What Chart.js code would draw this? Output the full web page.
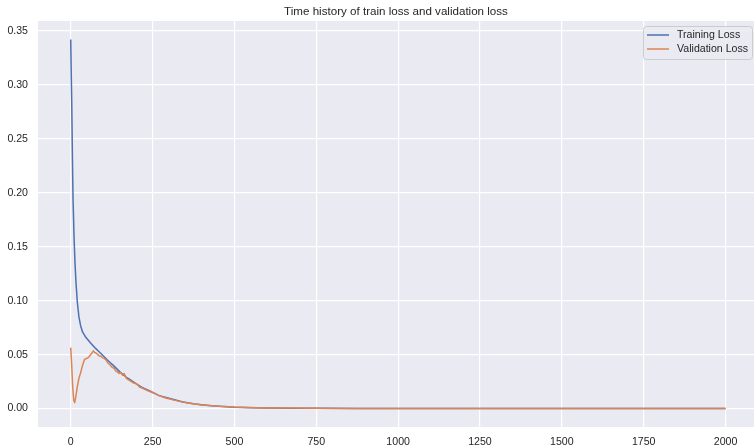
<!DOCTYPE html>
<html>
<head>
<meta charset="utf-8">
<script src="https://cdn.jsdelivr.net/npm/chart.js@4"></script>
<style>
  html, body { margin: 0; padding: 0; background: #ffffff; overflow: hidden; }
  #wrap { width: 754px; height: 447px; }
</style>
</head>
<body>
<div id="wrap"><canvas id="lossChart" width="754" height="447"></canvas></div>
<script>
// values
const trainEpochs = [0, 1, 3, 5, 7, 10, 13, 16, 20, 25, 30, 36, 46, 60, 75, 92, 112, 130, 150, 170, 190, 215, 240, 270, 300, 340, 380, 430, 500, 600, 750, 1000, 1500, 2000];
const trainLoss = [0.342, 0.32, 0.285, 0.235, 0.195, 0.16, 0.135, 0.117, 0.099, 0.085, 0.077, 0.071, 0.066, 0.061, 0.056, 0.051, 0.045, 0.040, 0.034, 0.029, 0.025, 0.020, 0.0165, 0.012, 0.0095, 0.0063, 0.0042, 0.0025, 0.0012, 0.0005, 0.0002, 0.0001, 0.00005, 0.00003];

const valEpochs = [0, 3, 6, 9, 12, 15, 20, 25, 30, 36, 42, 46, 52, 56, 60, 64, 69, 73, 77, 81, 86, 92, 97, 102, 108, 114, 120, 127, 132, 137, 142, 148, 153, 158, 163, 170, 177, 183, 190, 197, 203, 210, 218, 228, 240, 254, 270, 290, 316, 350, 397, 450, 497, 600, 750, 1000, 1500, 2000];
const valLoss = [0.0565, 0.040, 0.020, 0.008, 0.0055, 0.010, 0.020, 0.028, 0.033, 0.040, 0.0455, 0.0462, 0.047, 0.048, 0.0495, 0.051, 0.0535, 0.052, 0.0515, 0.0505, 0.049, 0.0485, 0.047, 0.0465, 0.045, 0.042, 0.0405, 0.038, 0.0375, 0.035, 0.034, 0.0325, 0.0335, 0.031, 0.0325, 0.028, 0.0265, 0.0255, 0.024, 0.0235, 0.0225, 0.020, 0.019, 0.0175, 0.016, 0.0143, 0.012, 0.0098, 0.0078, 0.0055, 0.0035, 0.0022, 0.0014, 0.0006, 0.0002, 0.0001, 0.0001, 0.0001];

const xTickValues = [0, 250, 500, 750, 1000, 1250, 1500, 1750, 2000];
const yTickValues = [0, 0.05, 0.10, 0.15, 0.20, 0.25, 0.30, 0.35];

const titleText = 'Time history of train loss and validation loss';
const FONT = '"Liberation Sans", Arial, sans-serif';
const TEXT_COLOR = '#262626';

// title centred over plot area
const titlePlugin = {
  id: 'plotTitle',
  afterDraw(chart) {
    const ctx = chart.ctx;
    const a = chart.chartArea;
    ctx.save();
    ctx.font = '11.6px ' + FONT;
    ctx.fillStyle = TEXT_COLOR;
    ctx.textAlign = 'center';
    ctx.textBaseline = 'middle';
    ctx.fillText(titleText, (a.left + a.right) / 2, 11.5);
    ctx.restore();
  }
};

// legend box in upper right corner, inside the axes
const legendPlugin = {
  id: 'insideLegend',
  afterDraw(chart) {
    const ctx = chart.ctx;
    const sets = chart.data.datasets;
    const x = 643, y = 26, w = 109, h = 33;
    ctx.save();
    ctx.fillStyle = 'rgba(234,234,242,0.8)';
    ctx.strokeStyle = '#cccccc';
    ctx.lineWidth = 1;
    ctx.beginPath();
    ctx.roundRect(x + 0.5, y + 0.5, w, h, 3);
    ctx.fill();
    ctx.stroke();
    ctx.font = '10.6px ' + FONT;
    ctx.textBaseline = 'middle';
    sets.forEach((ds, i) => {
      const ly = y + 9 + i * 14;
      ctx.strokeStyle = ds.borderColor;
      ctx.lineWidth = 1.5;
      ctx.beginPath();
      ctx.moveTo(x + 4, ly);
      ctx.lineTo(x + 26, ly);
      ctx.stroke();
      ctx.fillStyle = TEXT_COLOR;
      ctx.fillText(ds.label, x + 34, ly);
    });
    ctx.restore();
  }
};

const bgPlugin = {
  id: 'plotBg',
  beforeDraw(chart) {
    const ctx = chart.ctx;
    const a = chart.chartArea;
    ctx.save();
    ctx.fillStyle = '#eaeaf2';
    ctx.fillRect(a.left, a.top, a.right - a.left, a.bottom - a.top);
    ctx.restore();
  }
};

const ctx = document.getElementById('lossChart').getContext('2d');
new Chart(ctx, {
  type: 'line',
  data: {
    datasets: [
      {
        label: 'Training Loss',
        data: trainEpochs.map((e, i) => ({ x: e, y: trainLoss[i] })),
        borderColor: '#4c72b0',
        borderWidth: 1.5,
        pointRadius: 0,
        tension: 0.001,
        borderJoinStyle: 'round',
        fill: false,
        order: 2
      },
      {
        label: 'Validation Loss',
        data: valEpochs.map((e, i) => ({ x: e, y: valLoss[i] })),
        borderColor: '#dd8452',
        borderWidth: 1.5,
        pointRadius: 0,
        tension: 0.001,
        borderJoinStyle: 'round',
        fill: false,
        order: 1
      }
    ]
  },
  options: {
    responsive: false,
    animation: false,
    layout: { padding: { top: 21, right: 0, bottom: 0, left: 0 } },
    plugins: {
      legend: { display: false },
      title: { display: false },
      tooltip: { enabled: false }
    },
    scales: {
      x: {
        type: 'linear',
        min: -100,
        max: 2087,
        afterBuildTicks: (scale) => { scale.ticks = xTickValues.map(v => ({ value: v })); },
        afterFit: (scale) => { scale.height = 20; },
        border: { display: false },
        grid: { color: '#ffffff', lineWidth: 1.2, drawTicks: false },
        ticks: {
          padding: 9,
          maxRotation: 0,
          color: TEXT_COLOR,
          font: { family: FONT, size: 10.6 },
          callback: (v) => String(v)
        }
      },
      y: {
        type: 'linear',
        min: -0.0171,
        max: 0.3592,
        afterBuildTicks: (scale) => { scale.ticks = yTickValues.map(v => ({ value: v })); },
        afterFit: (scale) => { scale.width = 38; },
        border: { display: false },
        grid: { color: '#ffffff', lineWidth: 1.2, drawTicks: false },
        ticks: {
          padding: 10,
          color: TEXT_COLOR,
          font: { family: FONT, size: 10.6 },
          callback: (v) => v.toFixed(2)
        }
      }
    }
  },
  plugins: [bgPlugin, titlePlugin, legendPlugin]
});
</script>
</body>
</html>
